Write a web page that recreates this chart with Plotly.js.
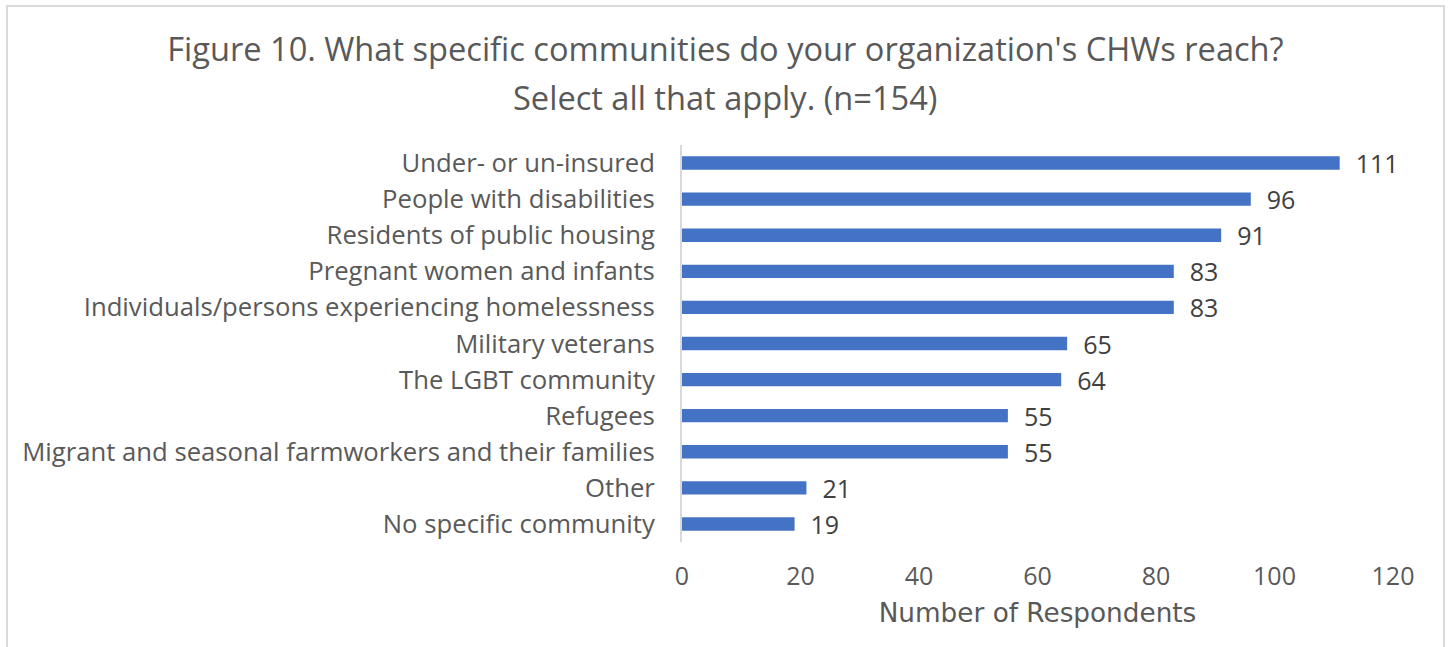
<!DOCTYPE html>
<html>
<head>
<meta charset="utf-8">
<script src="https://cdn.plot.ly/plotly-3.0.1.min.js"></script>
<style>
html,body{margin:0;padding:0;background:#fff;overflow:hidden;}
#frame{position:absolute;left:6px;top:5px;width:1439px;height:700px;border:2px solid #d9d9d9;box-sizing:border-box;}
#chart{position:absolute;left:0;top:0;width:1448px;height:647px;}
</style>
</head>
<body>
<div id="frame"></div>
<div id="chart"></div>
<script>
const categories = [
  "Under- or un-insured",
  "People with disabilities",
  "Residents of public housing",
  "Pregnant women and infants",
  "Individuals/persons experiencing homelessness",
  "Military veterans",
  "The LGBT community",
  "Refugees",
  "Migrant and seasonal farmworkers and their families",
  "Other",
  "No specific community"
];
const respondents = [111, 96, 91, 83, 83, 65, 64, 55, 55, 21, 19];
const xTicks = [0, 20, 40, 60, 80, 100, 120];
const titleLine1 = "Figure 10. What specific communities do your organization's CHWs reach?";
const titleLine2 = "Select all that apply. (n=154)";

const FONT = "'Open Sans', sans-serif";
const AXFONT = "'DejaVu Sans', sans-serif";
const trace = {
  type: 'bar',
  orientation: 'h',
  x: respondents,
  y: categories,
  marker: {color: '#4472c4'},
  width: 0.37,
  text: respondents,
  texttemplate: '  %{x}',
  textposition: 'outside',
  constraintext: 'none',
  cliponaxis: false,
  textfont: {family: FONT, size: 25, color: '#404040'},
  hoverinfo: 'none'
};
const layout = {
  width: 1448, height: 647,
  paper_bgcolor: 'rgba(0,0,0,0)',
  plot_bgcolor: 'rgba(0,0,0,0)',
  margin: {l: 682, r: 55, t: 145, b: 105, pad: 0},
  showlegend: false,
  title: {
    text: titleLine1,
    font: {family: FONT, size: 32.6, color: '#595959'},
    x: 0.501, xanchor: 'center', xref: 'container',
    y: 1 - 50 / 647, yanchor: 'middle', yref: 'container'
  },
  annotations: [{
    text: titleLine2,
    xref: 'paper', yref: 'paper',
    x: (725 - 682) / (1393 - 682) * 0 + (725 - 682) / 711 * 1, xanchor: 'center',
    y: 1 + (145 - 97) / 397, yanchor: 'middle',
    showarrow: false,
    font: {family: FONT, size: 32.6, color: '#595959'}
  }],
  xaxis: {
    range: [0, 120],
    tickvals: xTicks,
    ticktext: xTicks.map(String),
    showgrid: false, zeroline: false, showline: false,
    ticks: '',
    ticklabelstandoff: 17,
    tickfont: {family: FONT, size: 25, color: '#595959'},
    title: {text: 'Number of Respondents', font: {family: AXFONT, size: 26.3, color: '#595959'}, standoff: 12},
    fixedrange: true
  },
  yaxis: {
    autorange: 'reversed',
    showgrid: false, zeroline: false,
    showline: true, linecolor: '#d9d9d9', linewidth: 2,
    ticks: '',
    ticklabelstandoff: 20,
    tickfont: {family: FONT, size: 25.7, color: '#595959'},
    fixedrange: true
  },
  bargap: 0.63
};
Plotly.newPlot('chart', [trace], layout, {displayModeBar: false, staticPlot: true});
</script>
</body>
</html>
